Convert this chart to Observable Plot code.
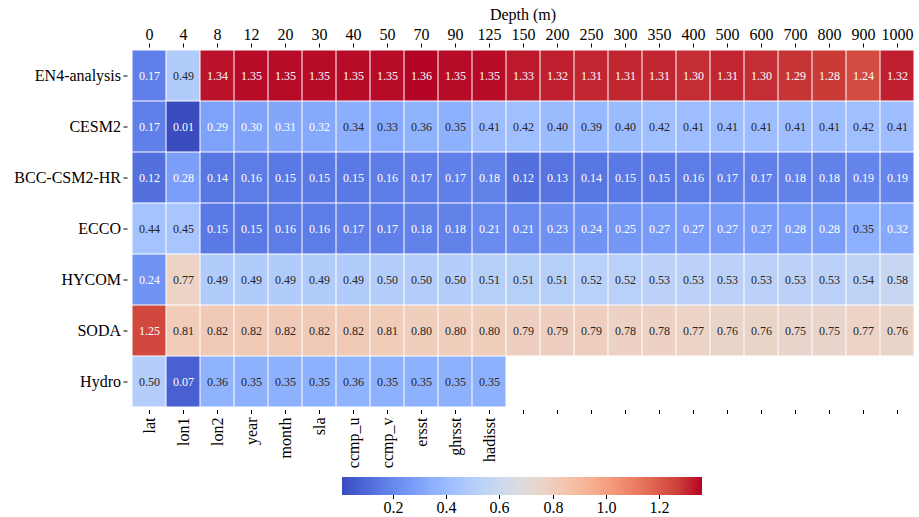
<!DOCTYPE html>
<html>
<head>
<meta charset="utf-8">
<script src="https://cdn.jsdelivr.net/npm/d3@7"></script>
<script src="https://cdn.jsdelivr.net/npm/@observablehq/plot@0.6"></script>
<style>
  html, body { margin: 0; padding: 0; background: #fff; }
  #wrap { position: relative; width: 919px; height: 517px; overflow: hidden; }
  #bar { position: absolute; left: 342px; top: 477px; }
  #wrap svg, #wrap svg text { font-family: "Liberation Serif", "Times New Roman", serif !important; }
</style>
</head>
<body>
<div id="wrap"><div id="main"></div><div id="bar"></div></div>
<script>
// Depth levels along the top axis
const depths = [0, 4, 8, 12, 20, 30, 40, 50, 70, 90, 125, 150, 200, 250, 300, 350, 400, 500, 600, 700, 800, 900, 1000];
// Predictor names along the bottom axis (only the first columns are named)
const variables = ["lat", "lon1", "lon2", "year", "month", "sla", "ccmp_u", "ccmp_v", "ersst", "ghrsst", "hadisst"];
// Data products (rows)
const products = ["EN4-analysis", "CESM2", "BCC-CSM2-HR", "ECCO", "HYCOM", "SODA", "Hydro"];

const en4   = [0.17, 0.49, 1.34, 1.35, 1.35, 1.35, 1.35, 1.35, 1.36, 1.35, 1.35, 1.33, 1.32, 1.31, 1.31, 1.31, 1.30, 1.31, 1.30, 1.29, 1.28, 1.24, 1.32];
const cesm2 = [0.17, 0.01, 0.29, 0.30, 0.31, 0.32, 0.34, 0.33, 0.36, 0.35, 0.41, 0.42, 0.40, 0.39, 0.40, 0.42, 0.41, 0.41, 0.41, 0.41, 0.41, 0.42, 0.41];
const bcc   = [0.12, 0.28, 0.14, 0.16, 0.15, 0.15, 0.15, 0.16, 0.17, 0.17, 0.18, 0.12, 0.13, 0.14, 0.15, 0.15, 0.16, 0.17, 0.17, 0.18, 0.18, 0.19, 0.19];
const ecco  = [0.44, 0.45, 0.15, 0.15, 0.16, 0.16, 0.17, 0.17, 0.18, 0.18, 0.21, 0.21, 0.23, 0.24, 0.25, 0.27, 0.27, 0.27, 0.27, 0.28, 0.28, 0.35, 0.32];
const hycom = [0.24, 0.77, 0.49, 0.49, 0.49, 0.49, 0.49, 0.50, 0.50, 0.50, 0.51, 0.51, 0.51, 0.52, 0.52, 0.53, 0.53, 0.53, 0.53, 0.53, 0.53, 0.54, 0.58];
const soda  = [1.25, 0.81, 0.82, 0.82, 0.82, 0.82, 0.82, 0.81, 0.80, 0.80, 0.80, 0.79, 0.79, 0.79, 0.78, 0.78, 0.77, 0.76, 0.76, 0.75, 0.75, 0.77, 0.76];
const hydro = [0.50, 0.07, 0.36, 0.35, 0.35, 0.35, 0.36, 0.35, 0.35, 0.35, 0.35];

const series = [en4, cesm2, bcc, ecco, hycom, soda, hydro];
const colorDomain = [0.01, 1.36];

// Long-form table: one record per cell
const cells = [];
series.forEach((vals, r) => vals.forEach((v, c) => cells.push({product: products[r], depth: String(depths[c]), value: v})));

// Cool-warm diverging colormap (Moreland)
const coolwarm = d3.piecewise(d3.interpolateRgb, [
  "rgb(59,76,192)", "rgb(77,104,215)", "rgb(98,130,234)", "rgb(119,154,247)",
  "rgb(141,176,254)", "rgb(163,194,255)", "rgb(184,208,249)", "rgb(204,217,238)",
  "rgb(221,221,221)", "rgb(236,211,197)", "rgb(245,196,173)", "rgb(247,177,148)",
  "rgb(244,154,123)", "rgb(236,127,99)", "rgb(222,96,77)", "rgb(203,62,56)", "rgb(180,4,38)"
]);

const lightText = d => d.value < 0.325 || d.value > 1.0;
const depthIndex = new Map(depths.map((d, i) => [String(d), i]));

const chart = Plot.plot({
  width: 919,
  height: 470,
  marginTop: 46.5,
  marginLeft: 127.5,
  marginRight: 1.5,
  marginBottom: 60,
  style: {fontSize: "16px", background: "#fff", color: "#000"},
  x: {domain: depths.map(String), padding: 0, axis: null},
  y: {domain: products, padding: 0, axis: null},
  color: {type: "linear", domain: colorDomain, interpolate: coolwarm},
  marks: [
    Plot.cell(cells, {x: "depth", y: "product", fill: "value", inset: 0.5}),
    Plot.text(cells.filter(lightText), {x: "depth", y: "product", text: d => d.value.toFixed(2), fill: "#fff", fontSize: 12}),
    Plot.text(cells.filter(d => !lightText(d)), {x: "depth", y: "product", text: d => d.value.toFixed(2), fill: "#262626", fontSize: 12}),
    Plot.axisX({anchor: "top", tickSize: 4, tickPadding: 3, label: "Depth (m)", labelAnchor: "center", labelOffset: 38}),
    Plot.axisX({anchor: "bottom", tickSize: 4, tickPadding: 3, tickRotate: -90, label: null,
      tickFormat: d => variables[depthIndex.get(d)] ?? ""}),
    Plot.axisY({anchor: "left", tickSize: 4, tickPadding: 3, label: null})
  ]
});
document.getElementById("main").append(chart);

// Colour bar below the heatmap
const bar = Plot.legend({
  color: {type: "linear", domain: colorDomain, interpolate: coolwarm},
  width: 360,
  height: 42,
  marginTop: 0,
  marginBottom: 24,
  marginLeft: 0,
  marginRight: 0,
  tickSize: 4,
  ticks: [0.2, 0.4, 0.6, 0.8, 1.0, 1.2],
  tickFormat: ".1f",
  style: {fontSize: "16px", color: "#000", overflow: "visible"}
});
bar.querySelectorAll(".tick line").forEach(l => l.setAttribute("y1", 0));
bar.querySelectorAll(".domain").forEach(p => p.remove());
document.getElementById("bar").append(bar);
</script>
</body>
</html>
